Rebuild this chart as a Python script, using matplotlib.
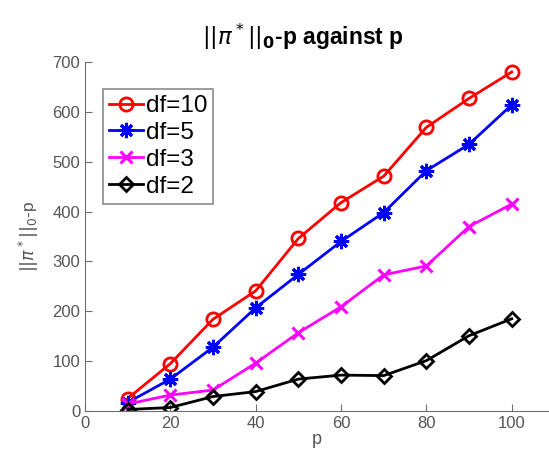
import matplotlib
matplotlib.use('Agg')
import matplotlib.pyplot as plt

# values
p = [10, 20, 30, 40, 50, 60, 70, 80, 90, 100]
df10 = [25, 95, 184, 241, 346, 418, 471, 569, 627, 680]
df5 = [17, 64, 128, 207, 274, 340, 398, 482, 535, 614]
df3 = [14, 32, 42, 96, 157, 209, 273, 291, 370, 415]
df2 = [3, 7, 29, 39, 64, 72, 71, 101, 151, 185]
xticks = [0, 20, 40, 60, 80, 100]
yticks = [0, 100, 200, 300, 400, 500, 600, 700]

plt.rcParams['font.family'] = ['Liberation Sans', 'DejaVu Sans']
plt.rcParams['mathtext.fontset'] = 'dejavusans'

fig = plt.figure(figsize=(5.49, 4.58), dpi=100)
ax = fig.add_axes([85/549, 1-411/458, 1-85/549, (411-62)/458])

gray = '#6e6e6e'
ax.plot(p, df10, '-o', color='red', lw=2, ms=9.5, mfc='none', mew=2, label='df=10')
ax.plot(p, df5, '-', marker=(8, 2, 0), color='blue', lw=2, ms=11, mew=2.2, label='df=5')
ax.plot(p, df3, '-x', color='magenta', lw=2, ms=9, mew=2.2, label='df=3')
ax.plot(p, df2, '-D', color='black', lw=2, ms=7.5, mfc='none', mew=2, label='df=2')

ax.set_xlim(0, 464/4.267)
ax.set_ylim(0, 700)
ax.set_xticks(xticks)
ax.set_yticks(yticks)
for s in ['top', 'right']:
    ax.spines[s].set_visible(False)
for s in ['left', 'bottom']:
    ax.spines[s].set_color(gray)
ax.tick_params(direction='in', colors=gray, labelsize=12, length=5, labelcolor='#555555')
ax.patch.set_alpha(0)

ax.set_xlabel('p', fontsize=13, color='#555555', labelpad=0)
ax.set_ylabel(r'$||\pi^*||_0$-p', fontsize=12.5, color='#555555', labelpad=8)
ax.set_title(r'$||\pi^*||_\mathbf{0}$-p against p', fontsize=16.5, fontweight='bold',
             x=(303-85)/464, pad=12)

leg = ax.legend(loc='upper left', bbox_to_anchor=((103-85)/464, (411-89)/349),
                fontsize=17.5, handlelength=1.4, handletextpad=0.1, borderpad=0.25,
                labelspacing=0.2, borderaxespad=0, fancybox=False)
leg.get_frame().set_edgecolor(gray)
leg.get_frame().set_linewidth(1.2)

fig.savefig('out.png')
